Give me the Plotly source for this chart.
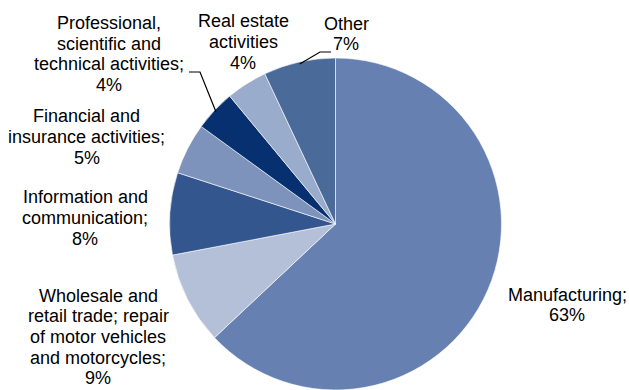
import math
import plotly.graph_objects as go

# Share of total by economic activity (%)
sectors = [
    "Manufacturing",
    "Wholesale and retail trade; repair of motor vehicles and motorcycles",
    "Information and communication",
    "Financial and insurance activities",
    "Professional, scientific and technical activities",
    "Real estate activities",
    "Other",
]
shares = [63, 9, 8, 5, 4, 4, 7]
colors = ["#6680B2", "#B3C0D8", "#34568E", "#7D93BB", "#06306F", "#9AACCB", "#4A6A9A"]

# Wrapped label lines (value line appended below)
label_lines = [
    ["Manufacturing;"],
    ["Wholesale and", "retail trade; repair", "of motor vehicles", "and motorcycles;"],
    ["Information and", "communication;"],
    ["Financial and", "insurance activities;"],
    ["Professional,", "scientific and", "technical activities;"],
    ["Real estate", "activities"],
    ["Other"],
]

W, H = 629, 390
CX, CY, R = 335.5, 224, 166  # pie centre and radius in px
LINE_H = 20.7

fig = go.Figure(
    go.Pie(
        labels=sectors,
        values=shares,
        sort=False,
        direction="clockwise",
        rotation=0,
        marker=dict(colors=colors, line=dict(color="#FFFFFF", width=0.6)),
        textinfo="none",
        hoverinfo="label+percent",
        domain=dict(
            x=[max(0, (CX - R) / W), min(1, (CX + R) / W)],
            y=[max(0, (H - CY - R) / H), min(1, (H - CY + R) / H)],
        ),
        showlegend=False,
    )
)

# Label placement (px, centre of each text block)
label_pos = [
    (567, 305),
    (98, 337),
    (85, 218),
    (87, 137),
    (109, 54),
    (243, 42),
    (346, 34),
]

font = dict(family="Liberation Sans, Arial, sans-serif", size=18, color="#000000")
for lines, val, (px, py) in zip(label_lines, shares, label_pos):
    rows = lines + [f"{val}%"]
    n = len(rows)
    for k, row in enumerate(rows):
        y = py + (k - (n - 1) / 2) * LINE_H
        fig.add_annotation(
            x=px / W, y=1 - y / H, xref="paper", yref="paper",
            text=row, showarrow=False, font=font,
            xanchor="center", yanchor="middle", align="center",
        )

# Leader lines to the two small top slices, ending at each slice's mid-angle on the rim
cum = 0
mids = []
for v in shares:
    mids.append((cum + v / 2) / sum(shares) * 2 * math.pi)
    cum += v

def rim(i, rr=R):
    a = mids[i]
    return CX + rr * math.sin(a), CY - rr * math.cos(a)

leaders = {4: [(189, 72), (200, 72)], 6: [(331, 52), (320, 52)]}
for i, pts in leaders.items():
    ex, ey = rim(i, R - 2)
    allp = pts + [(ex, ey)]
    path = "M " + " L ".join(f"{x / W},{1 - y / H}" for x, y in allp)
    fig.add_shape(type="path", path=path, xref="paper", yref="paper",
                  line=dict(color="#000000", width=1.2))

fig.update_layout(
    width=W, height=H,
    margin=dict(l=0, r=0, t=0, b=0),
    paper_bgcolor="#FFFFFF",
    plot_bgcolor="#FFFFFF",
)

fig.write_html("out.html")
